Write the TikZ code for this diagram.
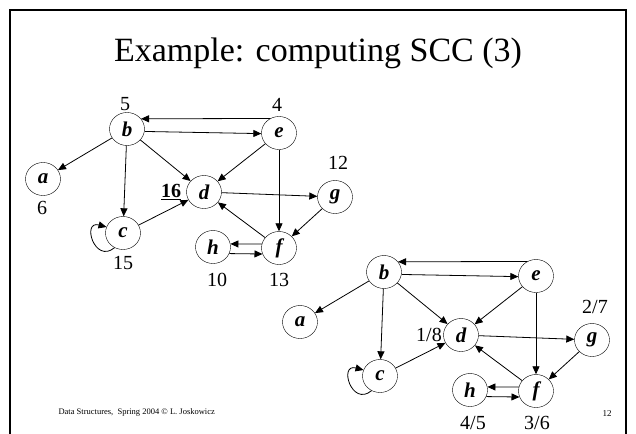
\documentclass[tikz,border=0pt]{standalone}
\usepackage{fontspec}
\setmainfont{Liberation Serif}
\usetikzlibrary{shapes.geometric}
\usetikzlibrary{arrows.meta}

\begin{document}
\begin{tikzpicture}[
    x=1pt, y=-1pt,
    vert/.style={draw, ellipse, minimum width=35pt, minimum height=33pt,
      inner sep=0pt, font=\fontsize{21}{21}\selectfont\bfseries\itshape},
    num/.style={inner sep=0pt, font=\fontsize{20}{20}\selectfont},
    arc/.style={-{Triangle[length=8pt,width=7pt]}, line width=0.8pt},
  ]
    \useasboundingbox (0,0) rectangle (636,433);
    % slide frame, open at the bottom
    \draw[line width=2.2pt] (10,10) rectangle (626,450);
    \node[font=\fontsize{34}{34}\selectfont, anchor=base] (title) at (318,62)
      {Example: computing SCC (3)};

    % the same graph twice, the second one shifted
    \foreach \g/\dx/\dy in {1/0/0, 2/257/143} {
      \begin{scope}[shift={(\dx,\dy)}]
        \node[vert] (b\g) at (127,129) {b};
        \node[vert] (e\g) at (279,133) {e};
        \node[vert] (a\g) at (43,179) {a};
        \node[vert] (d\g) at (204,192) {d};
        \node[vert] (g\g) at (335,197) {g};
        \node[vert] (c\g) at (123,233) {c};
        \node[vert] (h\g) at (213,247) {h};
        \node[vert] (f\g) at (279,248) {f};

        \draw[arc] (b\g) -- (a\g);
        \draw[arc] (b\g) -- (c\g);
        \draw[arc] (b\g) -- (d\g);
        \draw[arc] (e\g.121) -- (b\g.36);
        \draw[arc] (b\g.-8) -- (e\g.182);
        \draw[arc] (e\g) -- (d\g);
        \draw[arc] (e\g) -- (f\g);
        \draw[arc] (d\g) -- (g\g);
        \draw[arc] (g\g) -- (f\g);
        \draw[arc] (f\g) -- (d\g);
        \draw[arc] (c\g) -- (d\g);
        \draw[arc] (f\g.167) -- (h\g.10);
        \draw[arc] (h\g.-22) -- (f\g.-160);
        \draw[arc] (c\g.240) to[out=220, in=165, looseness=3] (c\g.160);
      \end{scope}
    }

    % finishing times, first pass
    \node[num] (t5) at (125,104) {5};
    \node[num] (t4) at (277,105) {4};
    \node[num] (t6) at (42,208) {6};
    \node[num] (t12) at (338,163) {12};
    \node[num, font=\fontsize{20}{20}\selectfont\bfseries] (t16) at (171,192) {\underline{16}};
    \node[num] (t15) at (123,263) {15};
    \node[num] (t10) at (217,280) {10};
    \node[num] (t13) at (279,280) {13};

    % discovery/finishing times, second pass
    \node[num] (t18) at (429,335) {1/8};
    \node[num] (t27) at (595,307) {2/7};
    \node[num] (t45) at (473,423) {4/5};
    \node[num] (t36) at (537,423) {3/6};

    \node[font=\fontsize{8.5}{8.5}\selectfont, anchor=west] (foot) at (55,412)
      {Data Structures,\ \ Spring 2004 \textcopyright{} L. Joskowicz};
    \node[font=\fontsize{9}{9}\selectfont] (page) at (607,414) {12};
\end{tikzpicture}
\end{document}
